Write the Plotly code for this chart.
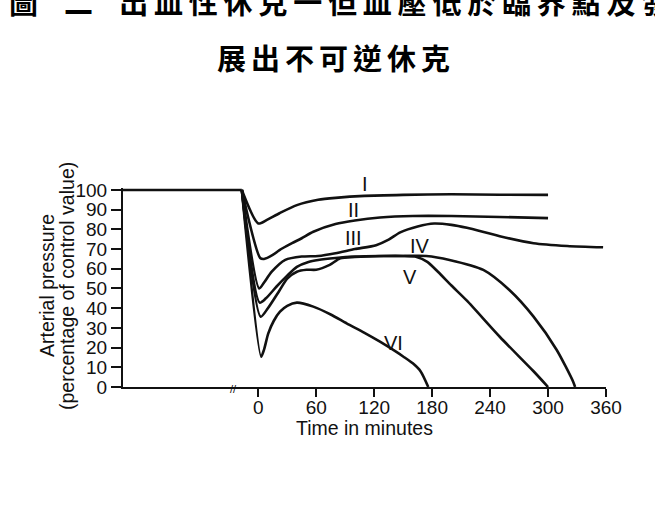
import plotly.graph_objects as go

# ---- data ----
control_t = [-140, -17]
control_v = [100, 100]

t_I = [-17, 0, 9, 22, 40, 62, 80, 110, 150, 200, 250, 300]
v_I = [100, 83, 84.8, 88.2, 92.3, 95, 96, 97, 97.5, 97.8, 97.6, 97.5]

t_II = [-17, 2, 6, 15, 22, 35, 45, 57, 80, 100, 126, 160, 200, 250, 300]
v_II = [100, 65.5, 65, 67, 69.5, 73, 75.5, 78.8, 82.7, 84.5, 86, 86.8, 86.8, 86.3, 85.7]

t_III = [-17, 1, 6, 14, 28, 45, 62, 80, 100, 122, 135, 147, 165, 182, 200, 216, 250, 285, 320, 357]
v_III = [100, 50, 53, 58.5, 64.5, 66.2, 66.5, 67.9, 70, 72, 74.8, 78.5, 81.5, 83, 82.3, 80.8, 76.5, 73, 71.6, 70.9]

t_IV = [-17, 1.5, 8, 19, 30, 40, 52, 62, 80, 100, 125, 150, 174, 198, 233, 260, 285, 309, 326, 328]
v_IV = [100, 42.8, 45, 51, 56.5, 61, 63.5, 64.5, 65.5, 66.2, 66.5, 66.5, 66.5, 64.5, 59.4, 49.2, 35.7, 18.8, 2.7, 0]

t_V = [-17, 2.5, 10, 22, 30, 40, 50, 60, 74, 85, 100, 130, 150, 164, 175, 186, 200, 216, 250, 285, 300]
v_V = [100, 35.7, 40, 49, 55, 58.5, 59.5, 59.5, 62, 65.3, 66, 66.5, 66.5, 66, 63.5, 58.5, 51.5, 43.8, 25.5, 8, 0]

t_VI = [-17, 3, 6, 10.4, 16, 22.5, 30, 40, 57, 75, 91.5, 110, 126, 143, 150, 160, 168, 176]
v_VI = [100, 15.4, 19, 27.2, 33.5, 38.2, 41.2, 42.8, 40.8, 36.8, 32.3, 27.5, 23, 17.8, 15.5, 12, 8, 0]

curve_names = ["I", "II", "III", "IV", "V", "VI"]
label_t = [110, 99, 99, 167, 157, 140]
label_v = [103, 89.8, 75.5, 71.6, 56, 22.2]

x_ticks = [0, 60, 120, 180, 240, 300, 360]
y_ticks = [0, 10, 20, 30, 40, 50, 60, 70, 80, 90, 100]

title_line1 = "圖\u2002二\u2002出血性休克一但血壓低於臨界點及發"
title_line2 = "展出不可逆休克"
y_title1 = "Arterial pressure"
y_title2 = "(percentage of control value)"
x_title = "Time in minutes"

# ---- figure ----
INK = "#111111"
FONT = "Liberation Sans, Arial, sans-serif"
CJK = "Noto Sans CJK TC, Noto Sans CJK SC, sans-serif"
LW = 2.6

fig = go.Figure()
fig.add_trace(go.Scatter(x=control_t, y=control_v, mode="lines",
                         line=dict(color=INK, width=LW), showlegend=False, hoverinfo="skip"))
for t, v in [(t_I, v_I), (t_II, v_II), (t_III, v_III), (t_IV, v_IV), (t_V, v_V), (t_VI, v_VI)]:
    fig.add_trace(go.Scatter(x=t, y=v, mode="lines",
                             line=dict(color=INK, width=LW, shape="spline", smoothing=0.7),
                             showlegend=False, hoverinfo="skip"))

L, R, T, B = 123, 49, 188, 133
W, H = 655, 520
pw, ph = W - L - R, H - T - B
X0_PX = L + 140 * pw / 500.0   # pixel of t = 0
PX_PER_MIN = pw / 500.0
PX_PER_UNIT = ph / 101.0

def px_x(px):
    return (px - L) / pw

def px_y(py):
    return (H - B - py) / ph

def t_to_paper(t):
    return px_x(X0_PX + t * PX_PER_MIN)

def v_to_paper(v):
    return px_y(H - B - v * PX_PER_UNIT)

annotations = []
for name, lt, lv in zip(curve_names, label_t, label_v):
    annotations.append(dict(x=t_to_paper(lt), y=v_to_paper(lv), xref="paper", yref="paper",
                            text=name, showarrow=False, xanchor="center", yanchor="middle",
                            font=dict(family=FONT, size=20, color=INK)))

annotations += [
    dict(x=px_x(47), y=px_y(286), xref="paper", yref="paper", text=y_title1, textangle=-90,
         showarrow=False, font=dict(family=FONT, size=19.5, color=INK), xanchor="center", yanchor="middle"),
    dict(x=px_x(67), y=px_y(286), xref="paper", yref="paper", text=y_title2, textangle=-90,
         showarrow=False, font=dict(family=FONT, size=19.5, color=INK), xanchor="center", yanchor="middle"),
    dict(x=px_x(364), y=px_y(428), xref="paper", yref="paper", text=x_title,
         showarrow=False, font=dict(family=FONT, size=19.5, color=INK), xanchor="center", yanchor="middle"),
    dict(x=t_to_paper(-26), y=0, xref="paper", yref="paper", text="//", showarrow=False, yshift=-2,
         xanchor="center", yanchor="middle",
         font=dict(family=FONT, size=11, color=INK)),
    dict(x=px_x(7), y=px_y(1), xref="paper", yref="paper",
         text='<span style="letter-spacing:5.8px">' + title_line1 + '</span>',
         showarrow=False, xanchor="left", yanchor="middle",
         font=dict(family=CJK, size=29, color="#000000", weight=700)),
    dict(x=px_x(215), y=px_y(57), xref="paper", yref="paper",
         text='<span style="letter-spacing:5px">' + title_line2 + '</span>',
         showarrow=False, xanchor="left", yanchor="middle",
         font=dict(family=CJK, size=29, color="#000000", weight=700)),
]

fig.update_layout(
    width=W, height=H,
    margin=dict(l=L, r=R, t=T, b=B),
    paper_bgcolor="white", plot_bgcolor="white",
    annotations=annotations,
    xaxis=dict(range=[-140, 360], tickvals=x_ticks, ticktext=[str(v) for v in x_ticks],
               ticks="outside", ticklen=8, tickwidth=1.5, tickcolor=INK, ticklabelstandoff=-6,
               showline=True, linecolor=INK, linewidth=2, showgrid=False, zeroline=False,
               tickfont=dict(family=FONT, size=19, color=INK), fixedrange=True),
    yaxis=dict(range=[0, 101], tickvals=y_ticks, ticktext=[str(v) for v in y_ticks],
               ticks="outside", ticklen=10, tickwidth=1.5, tickcolor=INK,
               showline=True, linecolor=INK, linewidth=2, showgrid=False, zeroline=False,
               tickfont=dict(family=FONT, size=19, color=INK), fixedrange=True),
)

fig.write_html("out.html")
